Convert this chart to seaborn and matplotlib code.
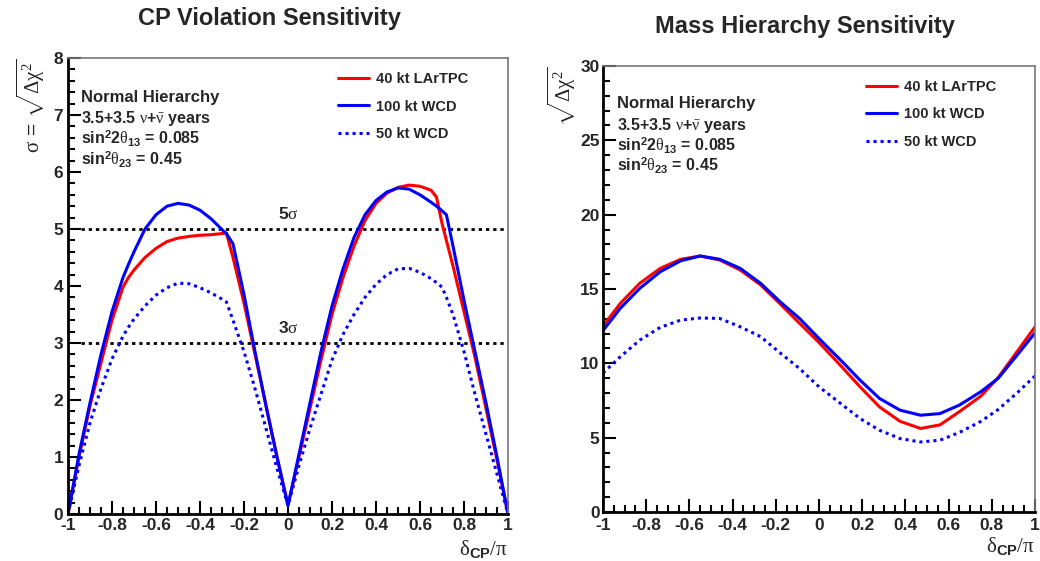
import matplotlib
matplotlib.use("Agg")
import matplotlib.pyplot as plt
import seaborn as sns
import pandas as pd
from matplotlib.ticker import MultipleLocator, FuncFormatter

# ---------------- data ----------------
x_cp = [-1.0, -0.95, -0.9, -0.85, -0.8, -0.75, -0.725, -0.7, -0.65, -0.6, -0.55, -0.5,
        -0.45, -0.4, -0.35, -0.3, -0.28, -0.25, -0.2, -0.15, -0.1, -0.05, 0.0,
        0.05, 0.1, 0.15, 0.2, 0.25, 0.3, 0.35, 0.4, 0.45, 0.5, 0.55, 0.6, 0.65,
        0.675, 0.7, 0.72, 0.75, 0.8, 0.85, 0.9, 0.95, 1.0]
cp_lar40 = [0.0, 1.0, 1.9, 2.65, 3.4, 3.98, 4.15, 4.28, 4.5, 4.66, 4.78, 4.84,
            4.87, 4.89, 4.9, 4.92, 4.93, 4.5, 3.7, 2.8, 1.9, 1.0, 0.15,
            1.0, 1.85, 2.7, 3.5, 4.15, 4.7, 5.15, 5.45, 5.63, 5.73, 5.77, 5.75, 5.68,
            5.56, 5.1, 4.8, 4.35, 3.55, 2.75, 1.85, 0.95, 0.0]
cp_wcd100 = [0.0, 1.05, 1.95, 2.8, 3.55, 4.15, 4.38, 4.6, 5.0, 5.25, 5.4, 5.45,
             5.42, 5.33, 5.18, 4.99, 4.92, 4.74, 3.85, 2.85, 1.9, 1.0, 0.15,
             1.05, 1.95, 2.85, 3.65, 4.3, 4.85, 5.25, 5.5, 5.65, 5.72, 5.7, 5.6, 5.47,
             5.4, 5.32, 5.25, 4.7, 3.75, 2.85, 1.95, 1.0, 0.0]
cp_wcd50 = [0.0, 0.85, 1.6, 2.2, 2.72, 3.12, 3.28, 3.42, 3.65, 3.84, 3.97, 4.05,
            4.04, 3.97, 3.88, 3.77, 3.72, 3.4, 2.85, 2.2, 1.5, 0.8, 0.15,
            0.85, 1.5, 2.1, 2.7, 3.15, 3.5, 3.8, 4.03, 4.2, 4.3, 4.31, 4.24, 4.13,
            4.06, 3.98, 3.8, 3.5, 2.85, 2.1, 1.4, 0.7, 0.0]

x_mh = [-1.0, -0.92, -0.83, -0.735, -0.64, -0.55, -0.46, -0.365, -0.27, -0.18,
        -0.09, 0.0, 0.1, 0.19, 0.28, 0.375, 0.47, 0.56, 0.65, 0.75, 0.83, 0.92, 1.0]
mh_lar40 = [12.5, 14.03, 15.38, 16.39, 17.0, 17.22, 16.95, 16.28, 15.27, 14.0,
            12.69, 11.4, 9.85, 8.42, 7.07, 6.1, 5.62, 5.86, 6.75, 7.8, 9.05, 10.85, 12.45]
mh_wcd100 = [12.2, 13.7, 15.04, 16.16, 16.9, 17.22, 17.0, 16.39, 15.38, 14.14,
             13.02, 11.67, 10.22, 8.87, 7.64, 6.85, 6.51, 6.62, 7.19, 8.1, 9.0, 10.6, 12.05]
mh_wcd50 = [9.35, 10.44, 11.56, 12.42, 12.91, 13.05, 13.02, 12.46, 11.79, 10.7,
            9.65, 8.42, 7.3, 6.29, 5.5, 4.94, 4.71, 4.83, 5.35, 6.1, 6.9, 8.05, 9.15]

series_labels = ["40 kt LArTPC", "100 kt WCD", "50 kt WCD"]
sigma_levels = [3, 5]
sigma_texts = ["3", "5"]
info_lines = ["Normal Hierarchy",
              r"3.5+3.5 $\mathrm{\nu}$+$\mathrm{\bar{\nu}}$ years",
              r"sin$^{\mathbf{2}}$2$\mathrm{\theta}_{\mathbf{13}}$ = 0.085",
              r"sin$^{\mathbf{2}}$$\mathrm{\theta}_{\mathbf{23}}$ = 0.45"]

# ---------------- style ----------------
sns.set_theme(style="white")
plt.rcParams["font.family"] = ["Liberation Sans", "DejaVu Sans"]
plt.rcParams["axes.unicode_minus"] = False
plt.rcParams["mathtext.fontset"] = "custom"
plt.rcParams["mathtext.rm"] = "Liberation Serif"
plt.rcParams["mathtext.it"] = "Liberation Serif:italic"
plt.rcParams["mathtext.bf"] = "Liberation Sans:bold"

colors = ["#ff0000", "#0000ff", "#0000ff"]
styles = ["-", "-", (0, (1, 1.3))]

W, H = 1040, 561
fig = plt.figure(figsize=(W / 100, H / 100), dpi=100)
ax1 = fig.add_axes([68 / W, (H - 514) / H, 440 / W, 456 / H])
ax2 = fig.add_axes([603 / W, (H - 512) / H, 432 / W, 446 / H])


def fmt(v, pos):
    s = f"{v:.1f}".rstrip("0").rstrip(".")
    if s in ("-0", ""):
        s = "0"
    return s


def style_axes(ax, ymax, ymaj, ymin, xpad, ypad):
    ax.set_xlim(-1, 1)
    ax.set_ylim(0, ymax)
    ax.xaxis.set_major_locator(MultipleLocator(0.2))
    ax.xaxis.set_minor_locator(MultipleLocator(0.05))
    ax.yaxis.set_major_locator(MultipleLocator(ymaj))
    ax.yaxis.set_minor_locator(MultipleLocator(ymin))
    ax.xaxis.set_major_formatter(FuncFormatter(fmt))
    ax.tick_params(which="both", direction="in", top=False, right=False,
                   bottom=True, left=True, width=1.5, color="black")
    ax.tick_params(which="major", length=9.5, labelsize=12.5)
    ax.tick_params(which="minor", length=5)
    ax.tick_params(axis="x", pad=xpad)
    ax.tick_params(axis="y", pad=ypad)
    for lbl in ax.get_xticklabels() + ax.get_yticklabels():
        lbl.set_fontweight("bold")
    for s in ("left", "bottom"):
        ax.spines[s].set_color("black")
        ax.spines[s].set_linewidth(2)
    for s in ("top", "right"):
        ax.spines[s].set_color("#777777")
        ax.spines[s].set_linewidth(1.2)
    ax.set_xlabel("")
    ax.set_ylabel("")
    ax.text(1.0, -0.052, r"$\mathrm{\delta}_{\mathbf{CP}}/\mathrm{\pi}$",
            transform=ax.transAxes, ha="right", va="top", fontsize=15)


def draw(ax, x, ys, anchor):
    handles = []
    for y, c, ls, lab in zip(ys, colors, styles, series_labels):
        df = pd.DataFrame({"x": x, "y": y})
        sns.lineplot(data=df, x="x", y="y", ax=ax, color=c, linestyle=ls,
                     linewidth=2.2, label=lab, legend=False)
        handles.append(ax.get_lines()[-1])
    ax.legend(handles, series_labels, loc="upper left",
              bbox_to_anchor=anchor, frameon=False,
              prop={"weight": "bold", "size": 10.5}, handlelength=2.1,
              handletextpad=0.5, labelspacing=0.92, borderaxespad=0.2,
              borderpad=0.3)


# CP violation panel
for lev, txt in zip(sigma_levels, sigma_texts):
    ax1.axhline(lev, xmin=0.03, xmax=1.0, color="black", lw=2,
                linestyle=(0, (1.2, 1.4)), zorder=1)
    ax1.text(0.0, lev + 0.13, r"$\mathbf{" + txt + r"}\mathrm{\sigma}$",
             ha="center", va="bottom", fontsize=12.5)
draw(ax1, x_cp, [cp_lar40, cp_wcd100, cp_wcd50], (0.598, 0.985))
style_axes(ax1, 8, 1, 0.2, 3, 3.5)

# Mass hierarchy panel
draw(ax2, x_mh, [mh_lar40, mh_wcd100, mh_wcd50], (0.592, 0.985))
style_axes(ax2, 30, 5, 1, 4.5, 2.5)

# info text
for ax, ys, x0 in ((ax1, [0.904, 0.857, 0.811, 0.765], 0.03),
                   (ax2, [0.905, 0.856, 0.809, 0.763], 0.032)):
    for line, yy in zip(info_lines, ys):
        ax.text(x0, yy, line, transform=ax.transAxes, ha="left",
                va="baseline", fontsize=12 if line == info_lines[0] else 11.5,
                fontweight="bold")

# axis titles
ax1.text(-0.085, 1.0, r"$\mathrm{\sigma}$ = $\sqrt{\mathrm{\Delta\chi}^{2}}$",
         transform=ax1.transAxes, rotation=90, ha="center", va="top",
         fontsize=15)
ax2.text(-0.095, 1.0, r"$\sqrt{\mathrm{\Delta\chi}^{2}}$",
         transform=ax2.transAxes, rotation=90, ha="center", va="top",
         fontsize=15)

# panel titles
fig.text(269 / W, 1 - 19 / H, "CP Violation Sensitivity", ha="center",
         va="center", fontsize=17, fontweight="bold")
fig.text(805 / W, 1 - 27 / H, "Mass Hierarchy Sensitivity", ha="center",
         va="center", fontsize=17, fontweight="bold")

fig.savefig("out.png", dpi=100)
